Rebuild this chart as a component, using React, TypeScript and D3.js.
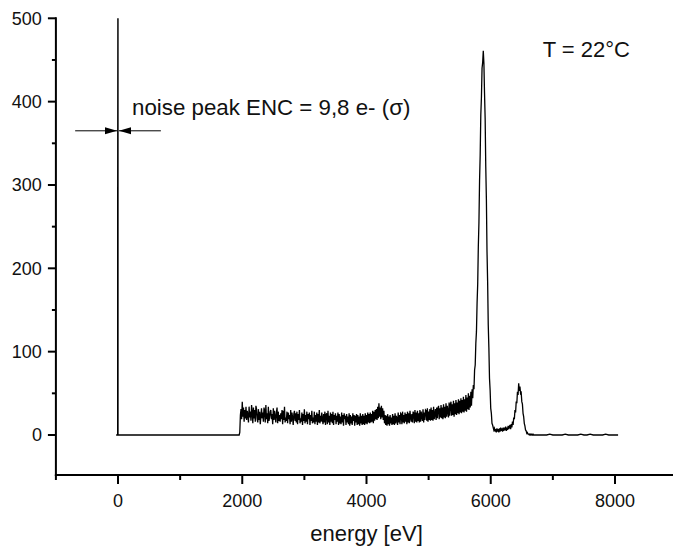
import React from 'react';
import * as d3 from 'd3';

const W = 673;
const H = 552;

// axis ticks
const yTicks = [0, 100, 200, 300, 400, 500];
const yMinor = [50, 150, 250, 350, 450];
const xTicks = [0, 2000, 4000, 6000, 8000];
const xMinor = [-1000, 1000, 3000, 5000, 7000];

// noise peak at 0 eV and empty region up to the discriminator threshold
const leadEnergy = [-30, -6, -6, 0, 0, 8, 1950];
const leadCounts = [0, 0, 250, 700, 0, 0, 0];

// noisy continuum, 1960..5700 eV every 10 eV
const bandStart = 1960;
const bandStep = 10;
const bandCounts = [
  3, 24, 31, 19, 40, 22, 33, 16, 30, 20,
  34, 18, 29, 24, 15, 34, 21, 28, 17, 36,
  27, 14, 33, 20, 30, 16, 35, 31, 19, 15,
  31, 18, 28, 13, 22, 32, 20, 27, 16, 33,
  29, 15, 36, 19, 26, 14, 34, 17, 21, 28,
  30, 19, 25, 13, 32, 18, 29, 22, 15, 27,
  33, 14, 28, 17, 24, 16, 26, 19, 30, 13,
  29, 18, 34, 15, 21, 17, 28, 14, 27, 19,
  24, 13, 30, 16, 27, 21, 12, 25, 29, 17,
  26, 15, 28, 13, 25, 18, 30, 14, 20, 16,
  27, 12, 25, 17, 31, 14, 24, 16, 28, 13,
  25, 19, 27, 12, 24, 17, 29, 14, 21, 15,
  28, 13, 24, 16, 27, 12, 25, 15, 30, 14,
  23, 16, 27, 19, 13, 25, 15, 28, 12, 24,
  26, 13, 29, 15, 23, 12, 27, 16, 25, 14,
  28, 12, 24, 18, 26, 13, 23, 16, 27, 12,
  25, 14, 22, 13, 27, 15, 24, 11, 26, 19,
  23, 12, 25, 15, 22, 13, 26, 11, 24, 14,
  22, 12, 26, 17, 24, 11, 23, 15, 25, 12,
  24, 13, 22, 11, 26, 14, 23, 12, 25, 13,
  23, 12, 26, 14, 24, 13, 27, 15, 25, 14,
  27, 15, 25, 16, 29, 14, 28, 17, 30, 19,
  31, 18, 34, 20, 38, 22, 33, 19, 35, 21,
  32, 18, 29, 14, 24, 12, 23, 11, 25, 13,
  22, 11, 24, 14, 21, 12, 25, 13, 23, 12,
  26, 14, 23, 19, 12, 27, 15, 24, 13, 26,
  25, 13, 28, 15, 24, 14, 27, 16, 25, 13,
  28, 15, 26, 14, 29, 21, 16, 25, 15, 28,
  26, 14, 30, 16, 27, 15, 29, 17, 26, 15,
  30, 16, 28, 22, 17, 31, 15, 27, 18, 30,
  29, 17, 32, 16, 28, 18, 31, 17, 33, 18,
  30, 17, 34, 19, 25, 31, 18, 33, 20, 32,
  35, 19, 32, 21, 36, 20, 33, 19, 37, 21,
  34, 20, 38, 22, 35, 28, 21, 39, 23, 36,
  40, 23, 37, 24, 41, 22, 38, 25, 42, 24,
  39, 26, 43, 25, 41, 27, 44, 26, 42, 28,
  46, 27, 43, 29, 48, 28, 45, 31, 50, 30,
  47, 33, 52, 35, 55,
];

// Mn K-alpha / K-beta peaks, 5710..6700 eV every 10 eV
const peakStart = 5710;
const peakStep = 10;
const peakCounts = [
  44, 60, 55, 78, 84, 110, 124, 158, 181, 226,
  255, 305, 336, 384, 405, 440, 447, 461, 446, 410,
  380, 322, 283, 220, 184, 132, 105, 68, 54, 32,
  26, 14, 12, 9, 6, 8, 4, 7, 3, 8,
  4, 7, 3, 8, 4, 9, 5, 8, 4, 9,
  5, 9, 6, 10, 5, 9, 6, 11, 7, 10,
  12, 7, 13, 9, 16, 12, 21, 19, 30, 27,
  40, 38, 52, 48, 62, 53, 58, 50, 51, 40,
  37, 26, 22, 14, 11, 6, 5, 2, 3, 1,
  1, 0, 1, 0, 1, 0, 0, 1, 0, 0,
];

// empty tail, 6750..8050 eV every 50 eV
const tailStart = 6750;
const tailStep = 50;
const tailCounts = [0, 0, 0, 0, 1, 0, 0, 0, 0, 1, 0, 0, 0, 0, 1, 0, 0, 1, 0, 0, 0, 0, 1, 0, 0, 0, 0];

const xDomain = [-1000, 9000];
const yDomain = [-48, 500];

const noiseLabel = 'noise peak ENC = 9,8 e- (\u03c3)';
const tempLabel = 'T = 22\u00b0C';
const xTitle = 'energy [eV]';

// annotation anchors in data coordinates
const arrowLevel = 365;
const arrowReach = 690;
const noiseLabelPos = [225, 384];
const tempLabelPos = [6836, 453];

const FONT = '"Liberation Sans", Arial, Helvetica, sans-serif';

export default function App() {
  const x = d3.scaleLinear().domain(xDomain).range([55.9, 677.1]);
  const y = d3.scaleLinear().domain(yDomain).range([475, 18.3]);

  const pts: [number, number][] = [];
  leadEnergy.forEach((e, i) => pts.push([e, leadCounts[i]]));
  bandCounts.forEach((c, i) => pts.push([bandStart + i * bandStep, c]));
  peakCounts.forEach((c, i) => pts.push([peakStart + i * peakStep, c]));
  tailCounts.forEach((c, i) => pts.push([tailStart + i * tailStep, c]));

  const line = d3
    .line<[number, number]>()
    .x((d) => x(d[0]))
    .y((d) => y(d[1]));

  const x0 = x(xDomain[0]);
  const yb = y(yDomain[0]);
  const yt = y(yDomain[1]);

  const ay = y(arrowLevel);
  const tip = x(0);
  const head = 12;
  const hw = 3.5;

  return (
    <svg
      width={W}
      height={H}
      style={{ position: 'absolute', left: 0, top: 0, background: '#fff' }}
      fontFamily={FONT}
    >
      <defs>
        <clipPath id="plot">
          <rect x={x0} y={yt} width={W - x0} height={yb - yt} />
        </clipPath>
      </defs>
      <rect x={0} y={0} width={W} height={H} fill="#fff" />

      {/* spectrum */}
      <path
        d={line(pts) || ''}
        fill="none"
        stroke="#000"
        strokeWidth={1.3}
        strokeLinejoin="miter"
        clipPath="url(#plot)"
      />

      {/* arrows around the noise peak */}
      <line x1={x(-arrowReach)} x2={tip - 1} y1={ay} y2={ay} stroke="#000" strokeWidth={1} />
      <polygon
        points={`${tip - 1},${ay} ${tip - 1 - head},${ay - hw} ${tip - 1 - head},${ay + hw}`}
        fill="#000"
      />
      <line x1={tip + 1} x2={x(arrowReach)} y1={ay} y2={ay} stroke="#000" strokeWidth={1} />
      <polygon
        points={`${tip + 1},${ay} ${tip + 1 + head},${ay - hw} ${tip + 1 + head},${ay + hw}`}
        fill="#000"
      />

      {/* y axis */}
      <line x1={x0} x2={x0} y1={yt - 1} y2={yb + 1} stroke="#000" strokeWidth={2} />
      {yTicks.map((t) => (
        <g key={`yt${t}`}>
          <line x1={x0 - 8} x2={x0} y1={y(t)} y2={y(t)} stroke="#000" strokeWidth={2} />
          <text x={x0 - 14} y={y(t) + 6.3} textAnchor="end" fontSize={18} fill="#111">
            {t}
          </text>
        </g>
      ))}
      {yMinor.map((t) => (
        <line key={`ym${t}`} x1={x0 - 4} x2={x0} y1={y(t)} y2={y(t)} stroke="#000" strokeWidth={2} />
      ))}

      {/* x axis */}
      <line x1={x0 - 1} x2={W} y1={yb} y2={yb} stroke="#000" strokeWidth={2} />
      {xTicks.map((t) => (
        <g key={`xt${t}`}>
          <line x1={x(t)} x2={x(t)} y1={yb} y2={yb + 9} stroke="#000" strokeWidth={2} />
          <text x={x(t)} y={yb + 31.5} textAnchor="middle" fontSize={18} fill="#111">
            {t}
          </text>
        </g>
      ))}
      {xMinor.map((t) => (
        <line key={`xm${t}`} x1={x(t)} x2={x(t)} y1={yb} y2={yb + 5} stroke="#000" strokeWidth={2} />
      ))}
      <text x={x(4000)} y={541} textAnchor="middle" fontSize={22} fill="#111">
        {xTitle}
      </text>

      {/* annotations */}
      <text x={x(noiseLabelPos[0])} y={y(noiseLabelPos[1])} fontSize={22.3} fill="#111">
        {noiseLabel}
      </text>
      <text x={x(tempLabelPos[0])} y={y(tempLabelPos[1])} fontSize={22} fill="#111">
        {tempLabel}
      </text>
    </svg>
  );
}
